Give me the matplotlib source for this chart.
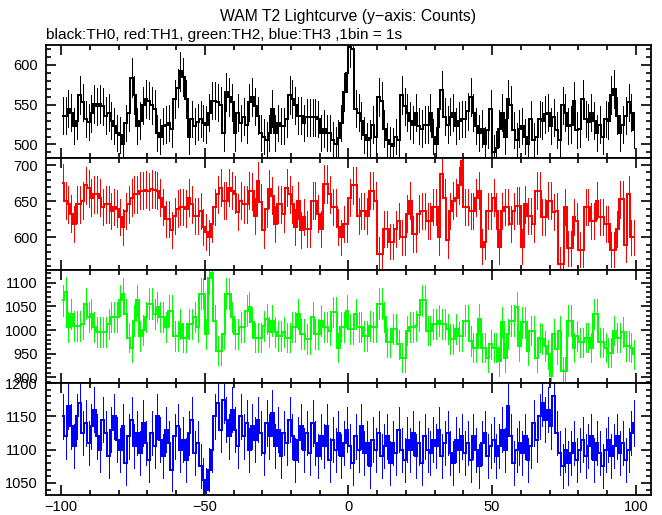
import numpy as np
import matplotlib
matplotlib.use("Agg")
import matplotlib.pyplot as plt
from matplotlib.ticker import MultipleLocator

plt.rcParams['font.family'] = ['Liberation Sans', 'DejaVu Sans']

# time bins, 1 bin = 1 s, from -100 to 100 s
t = np.arange(-100, 100) + 0.5

th0 = [536, 536, 545, 540, 523, 530, 562, 553, 532, 528,
       539, 551, 548, 551, 548, 536, 540, 530, 523, 514,
       512, 501, 527, 540, 584, 562, 523, 530, 549, 557,
       555, 549, 545, 514, 510, 523, 525, 527, 520, 557,
       571, 592, 585, 557, 510, 532, 523, 528, 532, 527,
       525, 540, 555, 555, 553, 549, 514, 566, 560, 553,
       514, 540, 527, 535, 525, 553, 560, 548, 536, 514,
       510, 506, 514, 545, 514, 527, 523, 523, 532, 562,
       557, 549, 536, 536, 527, 534, 534, 534, 534, 532,
       514, 520, 514, 514, 506, 500, 508, 527, 566, 590,
       622, 620, 545, 540, 530, 512, 505, 508, 525, 510,
       560, 555, 520, 505, 500, 498, 510, 505, 562, 548,
       540, 530, 525, 540, 523, 520, 525, 525, 540, 510,
       500, 545, 568, 535, 525, 535, 540, 523, 530, 532,
       532, 542, 560, 540, 523, 514, 520, 500, 518, 545,
       490, 495, 520, 540, 510, 557, 550, 518, 505, 520,
       523, 510, 500, 532, 505, 510, 532, 530, 538, 540,
       523, 534, 518, 505, 549, 540, 523, 525, 555, 518,
       520, 557, 532, 528, 540, 530, 514, 525, 510, 532,
       530, 562, 570, 536, 514, 525, 536, 553, 540, 518]

th1 = [676, 651, 646, 633, 619, 646, 646, 651, 672, 668,
       655, 660, 660, 655, 642, 646, 646, 637, 642, 640,
       628, 614, 637, 646, 655, 660, 660, 665, 665, 666,
       664, 667, 666, 665, 655, 642, 626, 626, 610, 630,
       640, 642, 642, 640, 655, 646, 630, 630, 637, 614,
       608, 600, 619, 642, 660, 669, 651, 651, 669, 665,
       660, 635, 651, 646, 646, 665, 664, 630, 678, 649,
       610, 640, 667, 658, 619, 646, 646, 633, 669, 660,
       646, 614, 651, 610, 628, 612, 612, 651, 651, 633,
       612, 674, 674, 660, 642, 642, 614, 600, 619, 619,
       655, 672, 672, 630, 637, 637, 630, 665, 665, 651,
       577, 577, 612, 612, 594, 594, 612, 623, 600, 600,
       633, 651, 605, 605, 633, 637, 637, 623, 623, 642,
       642, 600, 688, 655, 596, 637, 651, 655, 672, 706,
       642, 642, 637, 637, 655, 665, 587, 594, 637, 637,
       655, 637, 587, 637, 642, 642, 619, 637, 644, 644,
       587, 646, 630, 630, 619, 665, 665, 628, 628, 651,
       651, 635, 637, 563, 563, 642, 585, 585, 628, 623,
       583, 583, 642, 642, 623, 623, 651, 628, 628, 619,
       619, 583, 583, 612, 653, 653, 590, 660, 600, 600]

th2 = [1063, 1080, 1006, 1034, 1009, 1009, 1009, 1013, 1056, 1027,
       1034, 1006, 995, 995, 995, 995, 1013, 1027, 1027, 1027,
       1063, 1077, 1034, 984, 963, 1020, 1063, 988, 1000, 1027,
       1056, 1056, 1034, 1049, 1027, 1027, 1006, 1041, 1041, 988,
       988, 1013, 984, 984, 1013, 1013, 1027, 1006, 1077, 1077,
       991, 1110, 1120, 1020, 956, 956, 991, 1077, 1077, 1027,
       991, 991, 1006, 1006, 1041, 1049, 1016, 984, 984, 984,
       1009, 1024, 995, 1020, 995, 988, 988, 995, 984, 984,
       1006, 1006, 1034, 991, 991, 981, 981, 1027, 991, 991,
       1020, 1006, 1006, 999, 1038, 1038, 963, 1006, 1006, 1041,
       1002, 1002, 1034, 1006, 1006, 988, 988, 1009, 1006, 1006,
       1056, 1056, 1027, 974, 974, 1002, 1002, 970, 941, 941,
       999, 1006, 1006, 1009, 1031, 1063, 1063, 999, 999, 1013,
       1013, 1020, 1013, 1013, 1002, 981, 981, 1002, 988, 988,
       1020, 1020, 977, 963, 963, 1024, 963, 963, 941, 970,
       963, 963, 934, 1016, 941, 991, 1020, 1020, 1049, 966,
       1016, 1016, 956, 999, 999, 941, 984, 981, 966, 949,
       902, 991, 959, 999, 913, 913, 1020, 1020, 963, 988,
       974, 974, 984, 984, 963, 1034, 1034, 974, 974, 963,
       952, 952, 999, 984, 984, 995, 966, 966, 963, 949]

th3 = [1150, 1120, 1165, 1135, 1105, 1150, 1170, 1125, 1140, 1110,
       1135, 1160, 1120, 1100, 1145, 1125, 1090, 1130, 1150, 1115,
       1100, 1135, 1080, 1120, 1145, 1105, 1125, 1095, 1140, 1110,
       1085, 1125, 1105, 1150, 1115, 1090, 1130, 1110, 1070, 1120,
       1135, 1100, 1115, 1085, 1125, 1145, 1095, 1110, 1075, 1055,
       1040, 1070, 1100, 1150, 1170, 1130, 1175, 1145, 1120, 1160,
       1130, 1105, 1150, 1120, 1140, 1100, 1135, 1115, 1145, 1125,
       1095, 1140, 1120, 1155, 1105, 1130, 1090, 1125, 1110, 1145,
       1120, 1085, 1115, 1135, 1100, 1125, 1095, 1140, 1110, 1090,
       1120, 1105, 1135, 1085, 1115, 1100, 1125, 1090, 1110, 1130,
       1105, 1080, 1120, 1100, 1135, 1095, 1110, 1075, 1115, 1100,
       1125, 1090, 1105, 1120, 1080, 1110, 1095, 1130, 1100, 1085,
       1115, 1100, 1125, 1090, 1110, 1080, 1120, 1100, 1095, 1115,
       1105, 1130, 1090, 1110, 1125, 1095, 1080, 1115, 1100, 1120,
       1095, 1110, 1085, 1120, 1100, 1075, 1110, 1125, 1090, 1105,
       1115, 1090, 1105, 1130, 1100, 1165, 1120, 1080, 1100, 1110,
       1095, 1120, 1085, 1105, 1140, 1115, 1150, 1170, 1145, 1160,
       1135, 1180, 1125, 1095, 1075, 1100, 1080, 1095, 1110, 1085,
       1100, 1115, 1090, 1105, 1120, 1085, 1110, 1095, 1075, 1100,
       1115, 1090, 1105, 1120, 1095, 1110, 1085, 1100, 1125, 1140]

series = [th0, th1, th2, th3]
colors = ['black', '#ff0000', '#00ff00', '#0000ff']
ylims = [(483, 625), (555, 710), (888, 1127), (1032, 1200)]

fig = plt.figure(figsize=(6.62, 5.15), dpi=100)
W, H = 662.0, 515.0
left, right = 46 / W, 651 / W
edges = [45, 158, 270, 383, 495]

for k in range(4):
    bottom = 1 - edges[k + 1] / H
    height = (edges[k + 1] - edges[k]) / H
    ax = fig.add_axes([left, bottom, right - left, height])
    y = np.array(series[k], dtype=float)
    err = np.sqrt(y)
    ax.step(t, y, where='mid', color=colors[k], lw=1.44, antialiased=False)
    ax.vlines(t, y - err, y + err, color=colors[k], lw=0.72, antialiased=False)
    ax.set_xlim(-105.3, 105.3)
    ax.set_ylim(*ylims[k])
    ax.xaxis.set_major_locator(MultipleLocator(50))
    ax.xaxis.set_minor_locator(MultipleLocator(10))
    ax.yaxis.set_major_locator(MultipleLocator(50))
    ax.yaxis.set_minor_locator(MultipleLocator(10))
    ax.tick_params(which='both', direction='in', top=True, right=True,
                   labelsize=10.5, width=1.2, colors='black')
    ax.tick_params(axis='y', pad=6)
    ax.tick_params(axis='x', pad=3.5)
    ax.tick_params(which='major', length=7)
    ax.tick_params(which='minor', length=3.5)
    for s in ax.spines.values():
        s.set_linewidth(1.3)
    if k < 3:
        ax.tick_params(labelbottom=False)

fig.text((left + right) / 2, 1 - 17 / H, 'WAM T2 Lightcurve (y\u2212axis: Counts)',
         ha='center', va='center', fontsize=11.3)
fig.text(left, 1 - 35 / H, 'black:TH0, red:TH1, green:TH2, blue:TH3 ,1bin = 1s',
         ha='left', va='center', fontsize=11.1)

fig.savefig('out.png', dpi=100)
